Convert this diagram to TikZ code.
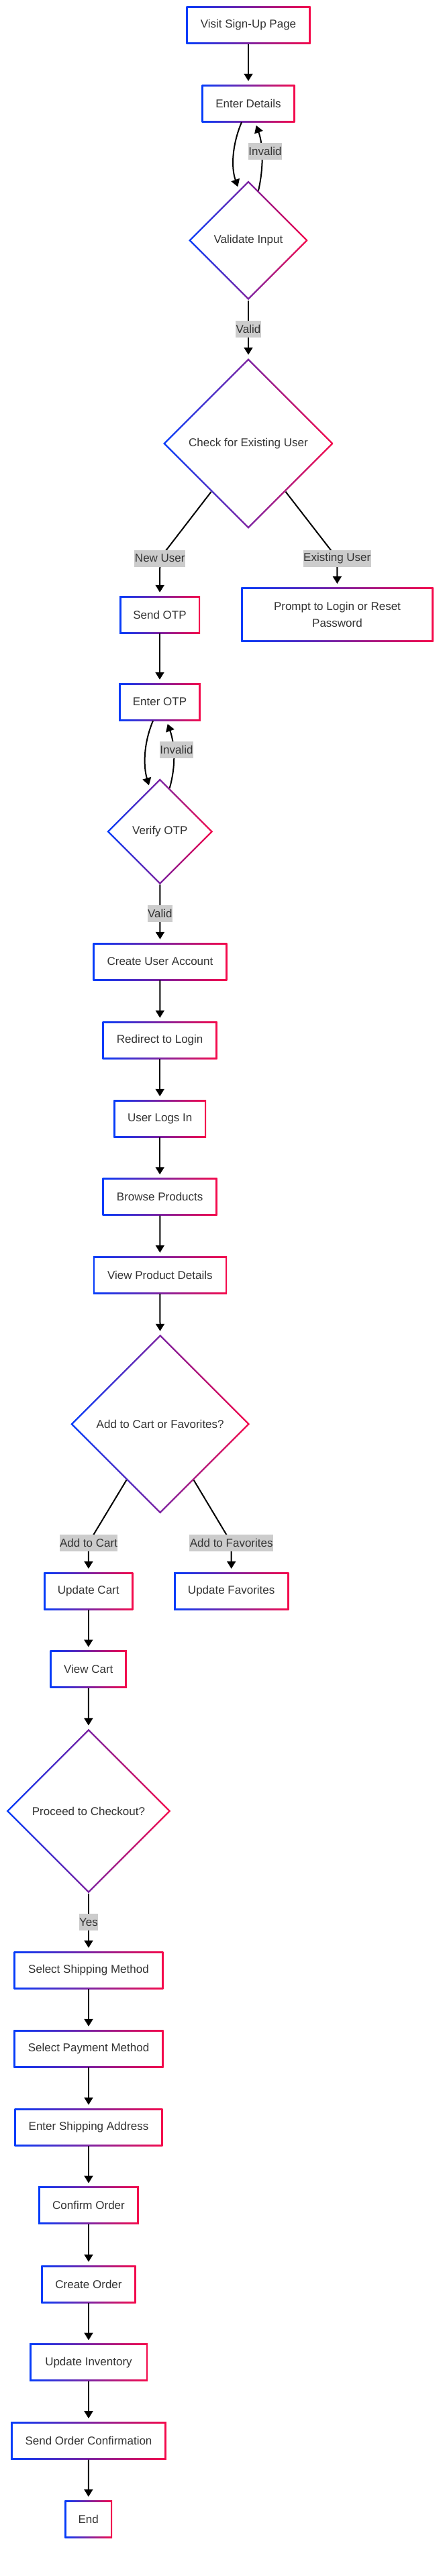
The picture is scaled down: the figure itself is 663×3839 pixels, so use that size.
\documentclass[tikz,border=0pt]{standalone}
\usepackage{fontspec}
\setmainfont{Liberation Sans}
\usetikzlibrary{shapes.geometric,arrows.meta}
\definecolor{gL}{RGB}{5,60,250}
\definecolor{gR}{RGB}{245,10,75}
\definecolor{tc}{RGB}{51,51,51}
\definecolor{lblc}{RGB}{204,204,204}
\tikzset{
 nfont/.style={font=\fontsize{17}{25}\selectfont, text=tc},
 gbox/.style={nfont, rectangle, inner sep=0pt, minimum height=56pt, align=center, path picture={
   \shade[left color=gL, right color=gR] (path picture bounding box.south west) rectangle (path picture bounding box.north east);
   \fill[white] ([shift={(2.5pt,2.5pt)}]path picture bounding box.south west) rectangle ([shift={(-2.5pt,-2.5pt)}]path picture bounding box.north east);}},
 gdia/.style={nfont, diamond, aspect=1, inner sep=0pt, minimum width=#1, minimum height=#1, path picture={
   \shade[left color=gL, right color=gR] (path picture bounding box.south west) rectangle (path picture bounding box.north east);
   \fill[white] ([yshift=-3.5pt]path picture bounding box.north) -- ([xshift=-3.5pt]path picture bounding box.east) -- ([yshift=3.5pt]path picture bounding box.south) -- ([xshift=3.5pt]path picture bounding box.west) -- cycle;}},
 lbl/.style={nfont, fill=lblc, inner xsep=0.5pt, inner ysep=0pt, minimum height=25pt},
 arr/.style={line width=2pt, draw=black, -{Triangle[length=11pt,width=13pt]}, shorten >=5pt},
}
\begin{document}
\begin{tikzpicture}[x=1pt,y=-1pt]
\fill[white] (0,0) rectangle (663,3839);
\useasboundingbox (0,0) rectangle (663,3839);
% nodes
\node[gbox, minimum width=185pt] (visit) at (370,37.3) {Visit Sign-Up Page};
\node[gbox, minimum width=138.6pt] (details) at (370,154) {Enter Details};
\node[gdia=178pt] (validate) at (370,358.3) {Validate Input};
\node[gdia=254pt] (ceu) at (370,661) {Check for Existing User};
\node[gbox, minimum width=120pt] (sendotp) at (238,916) {Send OTP};
\node[gbox, minimum width=286.4pt, minimum height=81.7pt] (prompt) at (502.5,916) {Prompt to Login or Reset\\Password};
\node[gbox, minimum width=121.7pt] (enterotp) at (238,1046) {Enter OTP};
\node[gdia=158pt] (verify) at (238.3,1239.3) {Verify OTP};
\node[gbox, minimum width=199.6pt] (createacc) at (238.5,1433) {Create User Account};
\node[gbox, minimum width=171pt] (redirect) at (238.2,1550) {Redirect to Login};
\node[gbox, minimum width=137.7pt] (logsin) at (238.2,1667) {User Logs In};
\node[gbox, minimum width=171pt] (browse) at (238.2,1783.5) {Browse Products};
\node[gbox, minimum width=199.3pt] (viewprod) at (238.4,1900) {View Product Details};
\node[gdia=267pt] (addq) at (238.7,2122.3) {Add to Cart or Favorites?};
\node[gbox, minimum width=133pt] (updcart) at (131.8,2371) {Update Cart};
\node[gbox, minimum width=171.3pt] (updfav) at (344.7,2371) {Update Favorites};
\node[gbox, minimum width=114.3pt] (viewcart) at (131.8,2487.7) {View Cart};
\node[gdia=245pt] (proceed) at (132,2699) {Proceed to Checkout?};
\node[gbox, minimum width=222.6pt] (ship) at (132,2936) {Select Shipping Method};
\node[gbox, minimum width=223.4pt] (pay) at (132,3053) {Select Payment Method};
\node[gbox, minimum width=220.6pt] (addr) at (132,3170) {Enter Shipping Address};
\node[gbox, minimum width=149.7pt] (confirm) at (132,3286.7) {Confirm Order};
\node[gbox, minimum width=141.3pt] (corder) at (132,3404) {Create Order};
\node[gbox, minimum width=176pt] (inventory) at (132,3520.7) {Update Inventory};
\node[gbox, minimum width=231.7pt] (sendconf) at (132,3637.3) {Send Order Confirmation};
\node[gbox, minimum width=70.7pt] (end) at (131.7,3754) {End};
% bend coordinates
\coordinate (bNew) at (238.3,832);
\coordinate (bEx) at (502.3,832);
\coordinate (bCart) at (132,2299.3);
\coordinate (bFav) at (344.7,2299.3);
% edges
\draw[arr] (visit) -- (details);
\draw[arr] ([xshift=-10pt]details.south) .. controls +(-14,33) and +(-12,-34) .. ([xshift=-14pt,yshift=-14pt]validate.north);
\draw[arr] ([xshift=15pt,yshift=-15pt]validate.north) .. controls +(8,-35) and +(12,33) .. ([xshift=10pt]details.south);
\node[lbl] (lInv1) at (395,225.7) {Invalid};
\draw[arr] (validate) -- node[lbl] (lVal1) {Valid} (ceu);
\draw[arr] (ceu) -- (bNew) -- (sendotp);
\node[lbl] (lNew) at (bNew) {New User};
\draw[arr] (ceu) -- (bEx) -- (prompt);
\node[lbl] (lEx) at (bEx) {Existing User};
\draw[arr] (sendotp) -- (enterotp);
\draw[arr] ([xshift=-10pt]enterotp.south) .. controls +(-14,33) and +(-10,-34) .. ([xshift=-15pt,yshift=-15pt]verify.north);
\draw[arr] ([xshift=14.4pt,yshift=-14.4pt]verify.north) .. controls +(10,-35) and +(12,33) .. ([xshift=10pt]enterotp.south);
\node[lbl] (lInv2) at (263,1117) {Invalid};
\draw[arr] (verify) -- node[lbl] (lVal2) {Valid} (createacc);
\draw[arr] (createacc) -- (redirect);
\draw[arr] (redirect) -- (logsin);
\draw[arr] (logsin) -- (browse);
\draw[arr] (browse) -- (viewprod);
\draw[arr] (viewprod) -- (addq);
\draw[arr] (addq) -- (bCart) -- (updcart);
\node[lbl] (lCart) at (bCart) {Add to Cart};
\draw[arr] (addq) -- (bFav) -- (updfav);
\node[lbl] (lFav) at (bFav) {Add to Favorites};
\draw[arr] (updcart) -- (viewcart);
\draw[arr] (viewcart) -- (proceed);
\draw[arr] (proceed) -- node[lbl] (lYes) {Yes} (ship);
\draw[arr] (ship) -- (pay);
\draw[arr] (pay) -- (addr);
\draw[arr] (addr) -- (confirm);
\draw[arr] (confirm) -- (corder);
\draw[arr] (corder) -- (inventory);
\draw[arr] (inventory) -- (sendconf);
\draw[arr] (sendconf) -- (end);
\end{tikzpicture}
\end{document}
